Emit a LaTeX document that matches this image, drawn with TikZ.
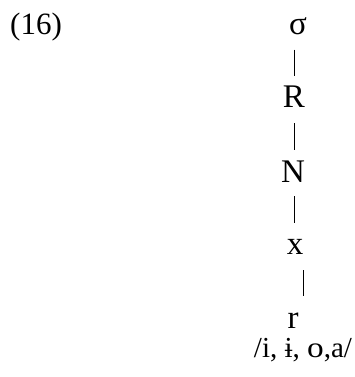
\documentclass[tikz,border=0pt]{standalone}
\usepackage{fontspec}
\setmainfont{Liberation Serif}
\begin{document}
\begin{tikzpicture}[x=1pt,y=1pt,
  lab/.style={inner sep=0pt,anchor=base,font=\fontsize{33}{40}\selectfont},
  edge/.style={line width=0.9pt}]
\useasboundingbox (0,0) rectangle (354,-377);
\node[lab,anchor=base west,font=\fontsize{31}{37}\selectfont] (num) at (10,-35) {(16)};
\node[lab] (s) at (298,-35) {σ};
\node[lab] (R) at (294,-108) {R};
\node[lab] (N) at (293,-182) {N};
\node[lab] (x) at (295,-254) {x};
\node[lab] (r) at (293,-328) {r};
\node[lab,font=\fontsize{29}{35}\selectfont] (v) at (303,-357) {/i, ɨ, \scalebox{1.15}[1]{o},a/};
\draw[edge,shorten <=14pt,shorten >=10pt] (s.south -| R.center) -- (R.north);
\draw[edge,shorten <=15pt,shorten >=10pt] (R.south) -- (N.north -| R.center);
\draw[edge,shorten <=14pt,shorten >=16pt] (N.south -| R.center) -- (x.north -| R.center);
\draw[edge,shorten <=16pt,shorten >=16pt] ([xshift=8pt]x.south) -- ([xshift=10pt]r.north);
\end{tikzpicture}
\end{document}
